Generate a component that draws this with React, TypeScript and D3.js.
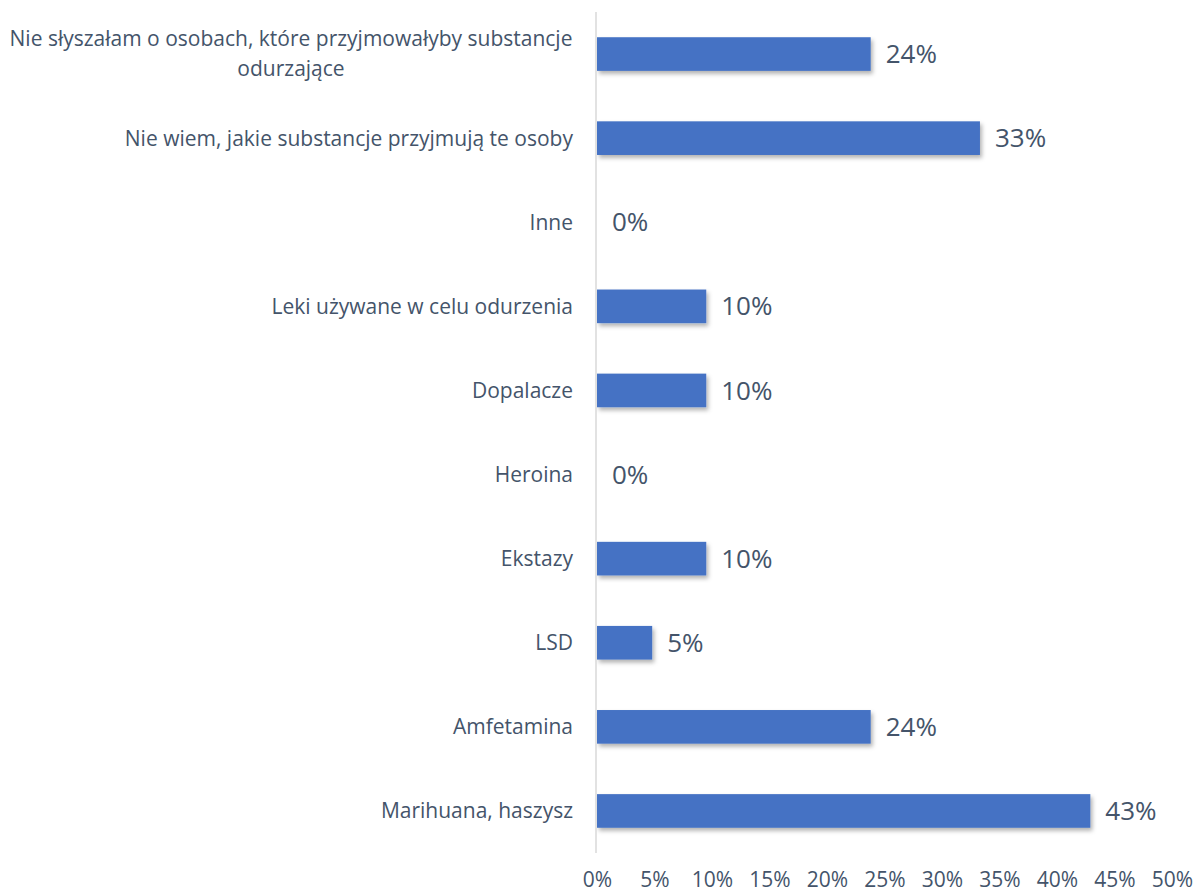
import { useRef, useEffect } from 'react';
import * as d3 from 'd3';

const categories = [
  'Nie słyszałam o osobach, które przyjmowałyby substancje|odurzające',
  'Nie wiem, jakie substancje przyjmują te osoby',
  'Inne',
  'Leki używane w celu odurzenia',
  'Dopalacze',
  'Heroina',
  'Ekstazy',
  'LSD',
  'Amfetamina',
  'Marihuana, haszysz',
];
const values = [23.8, 33.3, 0, 9.5, 9.5, 0, 9.5, 4.8, 23.8, 42.9];
const valueLabels = ['24%', '33%', '0%', '10%', '10%', '0%', '10%', '5%', '24%', '43%'];
const ticks = [0, 5, 10, 15, 20, 25, 30, 35, 40, 45, 50];

const W = 1197;
const H = 894;
const TEXT = '#44546A';
const FONT = '"Open Sans", sans-serif';

const App = () => {
  const ref = useRef<SVGSVGElement>(null);

  useEffect(() => {
    const svg = d3.select(ref.current);
    svg.selectAll('*').remove();

    const left = 597;
    const right = 1172;
    const top = 12;
    const bottom = 853;

    const x = d3.scaleLinear().domain([0, 50]).range([left, right]);
    const y = d3.scaleBand()
      .domain(categories)
      .range([top, bottom])
      .paddingInner(0.6)
      .paddingOuter(0.3);

    const defs = svg.append('defs');
    defs.append('filter')
      .attr('id', 'shadow')
      .attr('x', '-10%').attr('y', '-30%')
      .attr('width', '130%').attr('height', '180%')
      .append('feDropShadow')
      .attr('dx', 2).attr('dy', 3)
      .attr('stdDeviation', 2)
      .attr('flood-color', '#000')
      .attr('flood-opacity', 0.3);

    // bars
    svg.append('g')
      .selectAll('rect')
      .data(categories)
      .enter().append('rect')
      .attr('x', x(0))
      .attr('y', d => y(d))
      .attr('width', (d, i) => x(values[i]) - x(0))
      .attr('height', y.bandwidth())
      .attr('fill', '#4472C4')
      .attr('filter', 'url(#shadow)')
      .style('display', (d, i) => values[i] > 0 ? null : 'none');

    // vertical axis line
    svg.append('line')
      .attr('x1', 596).attr('x2', 596)
      .attr('y1', top).attr('y2', bottom)
      .attr('stroke', '#D9D9D9')
      .attr('stroke-width', 1.5);

    // value labels
    svg.append('g')
      .selectAll('text')
      .data(categories)
      .enter().append('text')
      .attr('x', (d, i) => x(values[i]) + 15)
      .attr('y', d => y(d) + y.bandwidth() / 2)
      .attr('dy', '0.35em')
      .attr('fill', TEXT)
      .style('font-family', FONT)
      .style('font-size', '26px')
      .text((d, i) => valueLabels[i]);

    // category labels
    const cat = svg.append('g')
      .selectAll('text')
      .data(categories)
      .enter().append('text')
      .attr('fill', TEXT)
      .style('font-family', FONT)
      .style('font-size', '21px');

    cat.each(function (d) {
      const lines = d.split('|');
      const t = d3.select(this);
      const cy = y(d) + y.bandwidth() / 2;
      if (lines.length === 1) {
        t.attr('x', 573).attr('y', cy).attr('dy', '0.35em')
          .attr('text-anchor', 'end').text(lines[0]);
      } else {
        t.attr('text-anchor', 'middle');
        lines.forEach((ln, k) => {
          t.append('tspan')
            .attr('x', 291)
            .attr('y', cy + (k - (lines.length - 1) / 2) * 30)
            .attr('dy', '0.35em')
            .text(ln);
        });
      }
    });

    // x axis
    const xAxis = svg.append('g')
      .attr('transform', `translate(0,${bottom})`)
      .call(d3.axisBottom(x).tickValues(ticks).tickFormat(d => `${d}%`).tickSize(0).tickPadding(19));
    xAxis.select('.domain').remove();
    xAxis.selectAll('text')
      .attr('fill', TEXT)
      .style('font-family', FONT)
      .style('font-size', '21px');
  }, []);

  return (
    <svg
      ref={ref}
      width={W}
      height={H}
      style={{ position: 'absolute', left: 0, top: 0, background: '#fff' }}
    ></svg>
  );
};

export default App;
